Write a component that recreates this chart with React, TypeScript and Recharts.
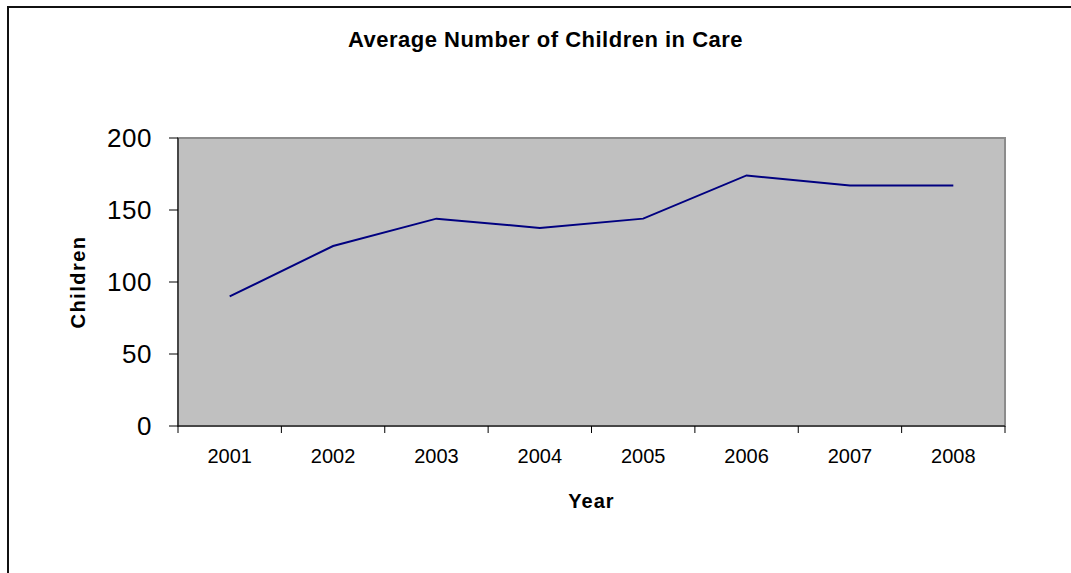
import {
    LineChart,
    Line,
    XAxis,
    YAxis,
    CartesianGrid,
    ReferenceArea
} from 'recharts';

// Datos
const YEARS = ['2001', '2002', '2003', '2004', '2005', '2006', '2007', '2008'];
const CHILDREN = [90, 125, 144, 137.5, 144, 174, 167, 167];
const Y_TICKS = [0, 50, 100, 150, 200];
const GRID_VALUES = [50, 100, 150];

const data = YEARS.map((year, i) => ({ pos: i + 1, year, children: CHILDREN[i] }));

// marcas entre categorias (estilo Excel) y etiquetas en el centro
const BOUNDARY_TICKS = YEARS.map((_, i) => i + 0.5).concat([YEARS.length + 0.5]);
const LABEL_TICKS = YEARS.map((_, i) => i + 1);
const X_DOMAIN = [0.5, YEARS.length + 0.5];

const FONT = '"Liberation Sans", Arial, sans-serif';

export default function App() {
    return (
        <div style={{ position: 'absolute', left: 0, top: 0, width: 1071, height: 573, overflow: 'hidden', background: '#fff', fontFamily: FONT }}>
            {/* marco exterior */}
            <div style={{ position: 'absolute', left: 7, top: 6, width: 1100, height: 620, border: '2px solid #111', boxSizing: 'border-box' }} />
            <div style={{ position: 'absolute', left: 0, width: 1091, top: 27, textAlign: 'center', fontWeight: 700, fontSize: 22, letterSpacing: 0.5, color: '#000' }}>
                Average Number of Children in Care
            </div>
            <div style={{ position: 'absolute', left: 0, top: 0 }}>
                <LineChart
                    width={1071}
                    height={573}
                    data={data}
                    margin={{ top: 138, right: 66, bottom: 59, left: 58 }}
                >
                    <ReferenceArea
                        xAxisId="a"
                        x1={X_DOMAIN[0]}
                        x2={X_DOMAIN[1]}
                        y1={0}
                        y2={200}
                        fill="#c0c0c0"
                        fillOpacity={1}
                        stroke="#8c8c8c"
                        strokeWidth={2}
                        ifOverflow="visible"
                    />
                    <CartesianGrid
                        xAxisId="a"
                        vertical={false}
                        horizontalValues={GRID_VALUES}
                        stroke="#000"
                        strokeWidth={1}
                    />
                    {/* eje con solo las marcas entre años */}
                    <XAxis
                        xAxisId="a"
                        dataKey="pos"
                        type="number"
                        domain={X_DOMAIN}
                        ticks={BOUNDARY_TICKS}
                        tickFormatter={() => ''}
                        tick={{ fontSize: 1 }}
                        tickSize={7}
                        tickMargin={0}
                        height={8}
                        interval={0}
                        stroke="#000"
                        axisLine={{ stroke: '#000' }}
                        tickLine={{ stroke: '#000', strokeWidth: 1 }}
                        allowDataOverflow
                    />
                    <XAxis
                        xAxisId="b"
                        dataKey="pos"
                        type="number"
                        domain={X_DOMAIN}
                        ticks={LABEL_TICKS}
                        tickFormatter={(v: number) => YEARS[v - 1]}
                        tick={{ fill: '#000', fontSize: 20, fontFamily: FONT }}
                        tickLine={false}
                        axisLine={false}
                        tickSize={0}
                        tickMargin={15}
                        height={80}
                        interval={0}
                        allowDataOverflow
                        label={{ value: 'Year', position: 'insideBottom', offset: 6, fill: '#000', fontSize: 20, fontWeight: 700, letterSpacing: 1, fontFamily: FONT }}
                    />
                    <YAxis
                        domain={[0, 200]}
                        ticks={Y_TICKS}
                        width={120}
                        tickSize={9}
                        tickMargin={17}
                        interval={0}
                        stroke="#000"
                        tick={{ fill: '#000', fontSize: 26, letterSpacing: 0.5, fontFamily: FONT }}
                        axisLine={{ stroke: '#000' }}
                        tickLine={{ stroke: '#000' }}
                        label={{ value: 'Children', angle: -90, position: 'insideLeft', offset: 20, fill: '#000', fontSize: 20, fontWeight: 700, letterSpacing: 1.5, fontFamily: FONT, style: { textAnchor: 'middle' } }}
                    />
                    <Line
                        xAxisId="a"
                        type="linear"
                        dataKey="children"
                        stroke="#000080"
                        strokeWidth={2}
                        dot={false}
                        activeDot={false}
                        isAnimationActive={false}
                    />
                </LineChart>
            </div>
        </div>
    );
}
